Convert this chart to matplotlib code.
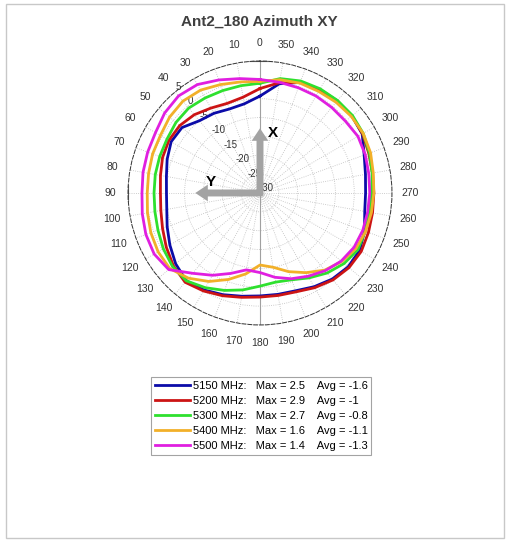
import numpy as np
import matplotlib.pyplot as plt
from matplotlib.patches import Rectangle

plt.rcParams['font.family'] = ['Liberation Sans', 'DejaVu Sans']

# azimuth angles (deg) and gain (dB) per frequency
angles_deg = [0, 10, 20, 30, 40, 50, 60, 70, 80, 90, 100, 110,
              120, 130, 140, 150, 160, 170, 180, 190, 200, 210, 220, 230,
              240, 250, 260, 270, 280, 290, 300, 310, 320, 330, 340, 350]

gain_5150 = [-4.3, -6.0, -6.3, -5.6, -5.0, -3.0, -2.8, -3.8, -4.8, -5.2, -4.9, -3.8,
             -2.4, -0.8, 0.4, -0.3, -1.3, -2.2, -2.7, -2.7, -2.4, -1.3, -0.2, 0.5,
             0.5, -0.5, -1.8, -2.0, -1.6, -0.6, 1.3, 1.8, 1.9, 1.7, 1.2, -0.6]
gain_5200 = [-2.3, -4.2, -4.7, -4.0, -2.9, -2.2, -2.1, -2.5, -3.2, -3.6, -3.3, -2.5,
             -1.3, 0.0, 0.9, 0.0, -1.0, -1.9, -2.4, -2.4, -2.1, -1.0, 0.1, 0.8,
             1.0, 0.6, 0.3, 0.2, 0.3, 0.7, 1.4, 1.8, 1.8, 1.6, 1.2, -0.3]
gain_5300 = [-0.9, -1.1, -1.1, -0.9, -0.6, -0.9, -1.5, -1.7, -1.8, -1.9, -1.7, -1.2,
             -0.4, 0.3, 0.4, -1.0, -2.5, -3.9, -5.3, -6.0, -5.5, -4.0, -2.3, -0.9,
             0.0, -0.3, -0.5, -0.4, 0.2, 0.9, 1.6, 2.0, 2.0, 1.9, 1.6, 0.8]
gain_5400 = [-0.4, -0.1, 0.6, 1.5, 1.8, 1.3, 0.5, 0.3, 0.0, -0.1, 0.3, 0.8,
             1.2, 1.2, -0.5, -2.9, -5.6, -8.2, -10.9, -10.0, -7.8, -5.6, -3.3, -1.7,
             -0.6, -0.2, 0.0, 0.2, 0.5, 1.2, 1.6, 1.6, 1.4, 1.1, 1.0, 0.5]
gain_5500 = [0.1, 0.8, 1.9, 3.2, 3.6, 3.0, 2.0, 1.7, 1.5, 1.3, 1.7, 2.2,
             2.4, 1.6, -2.2, -4.8, -7.3, -9.3, -8.9, -7.3, -5.8, -4.5, -3.1, -1.9,
             -1.2, -1.0, -1.0, -0.9, -0.7, -0.3, 0.0, -0.4, -0.4, -0.3, -0.3, -0.2]

freqs = [5150, 5200, 5300, 5400, 5500]
max_vals = ['2.5', '2.9', '2.7', '1.6', '1.4']
avg_vals = ['-1.6', '-1', '-0.8', '-1.1', '-1.3']
colors = ['#0b0ba8', '#cc1414', '#2ee02e', '#f2b029', '#e01fe0']
series = [gain_5150, gain_5200, gain_5300, gain_5400, gain_5500]

r_ticks = [-30, -25, -20, -15, -10, -5, 0, 5]
theta_ticks = list(range(0, 360, 10))

fig = plt.figure(figsize=(5.11, 5.43), dpi=100)

# outer frame
fig.add_artist(Rectangle((6 / 511, 1 - 538 / 543), 498 / 511, 534 / 543,
                         transform=fig.transFigure, fill=False,
                         edgecolor='#c8c8c8', lw=1))

fig.text(0.507, 0.9595, 'Ant2_180 Azimuth XY', fontsize=11, weight='bold',
         color='#404040', ha='center', va='center')

ax = fig.add_axes([0.2505, 0.4015, 0.5166, 0.4862], projection='polar')
ax.set_theta_zero_location('N')
ax.set_theta_direction(1)
ax.set_ylim(-30, 5)
ax.set_yticks(r_ticks)
ax.set_yticklabels([str(t) for t in r_ticks], fontsize=7, color='#333333')
ax.set_rlabel_position(40)
ax.set_thetagrids(theta_ticks, labels=[str(t) for t in theta_ticks])
ax.tick_params(axis='x', labelsize=7.5, colors='#333333', pad=2.5)
ax.grid(True, linestyle=':', color='#bdbdbd', lw=0.6)
ax.spines['polar'].set_linestyle((0, (4, 2)))
ax.spines['polar'].set_color('#333333')
ax.spines['polar'].set_linewidth(0.7)

# 0-180 axis line and small marks on the rim
ax.plot([0.5, 0.5], [0, 1], transform=ax.transAxes, color='#a0a0a0', lw=0.8)
ax.plot([0.46, 0.54], [1, 1], transform=ax.transAxes, color='#555555', lw=0.8)
ax.plot([0.46, 0.54], [0, 0], transform=ax.transAxes, color='#555555', lw=0.8)
ax.plot([0, 0], [0.47, 0.53], transform=ax.transAxes, color='#555555', lw=0.8)
ax.plot([1, 1], [0.47, 0.53], transform=ax.transAxes, color='#555555', lw=0.8)

th = np.deg2rad(angles_deg + [angles_deg[0]])
handles = []
for vals, c in zip(series, colors):
    ln, = ax.plot(th, vals + [vals[0]], color=c, lw=2.0)
    handles.append(ln)

# X / Y orientation arrows
arrow_kw = dict(facecolor='#a3a3a3', edgecolor='none', width=5, headwidth=12,
                headlength=9, shrink=0)
ax.annotate('', xy=(0.5, 0.745), xytext=(0.5, 0.49), xycoords='axes fraction',
            arrowprops=arrow_kw)
ax.annotate('', xy=(0.255, 0.5), xytext=(0.51, 0.5), xycoords='axes fraction',
            arrowprops=arrow_kw)
ax.text(0.55, 0.727, 'X', transform=ax.transAxes, fontsize=11, weight='bold',
        ha='center', va='center')
ax.text(0.314, 0.54, 'Y', transform=ax.transAxes, fontsize=11, weight='bold',
        ha='center', va='center')

labels = [f'{f} MHz:   Max = {m}    Avg = {a}'
          for f, m, a in zip(freqs, max_vals, avg_vals)]
leg = fig.legend(handles, labels, loc='upper center', bbox_to_anchor=(0.511, 0.305),
                 fontsize=8, frameon=True, fancybox=False, edgecolor='#8c8c8c',
                 handlelength=3.2, labelspacing=0.45, borderpad=0.35,
                 handletextpad=0.2, borderaxespad=0)
leg.get_frame().set_linewidth(0.8)

fig.savefig('out.png', dpi=100, facecolor='white')
